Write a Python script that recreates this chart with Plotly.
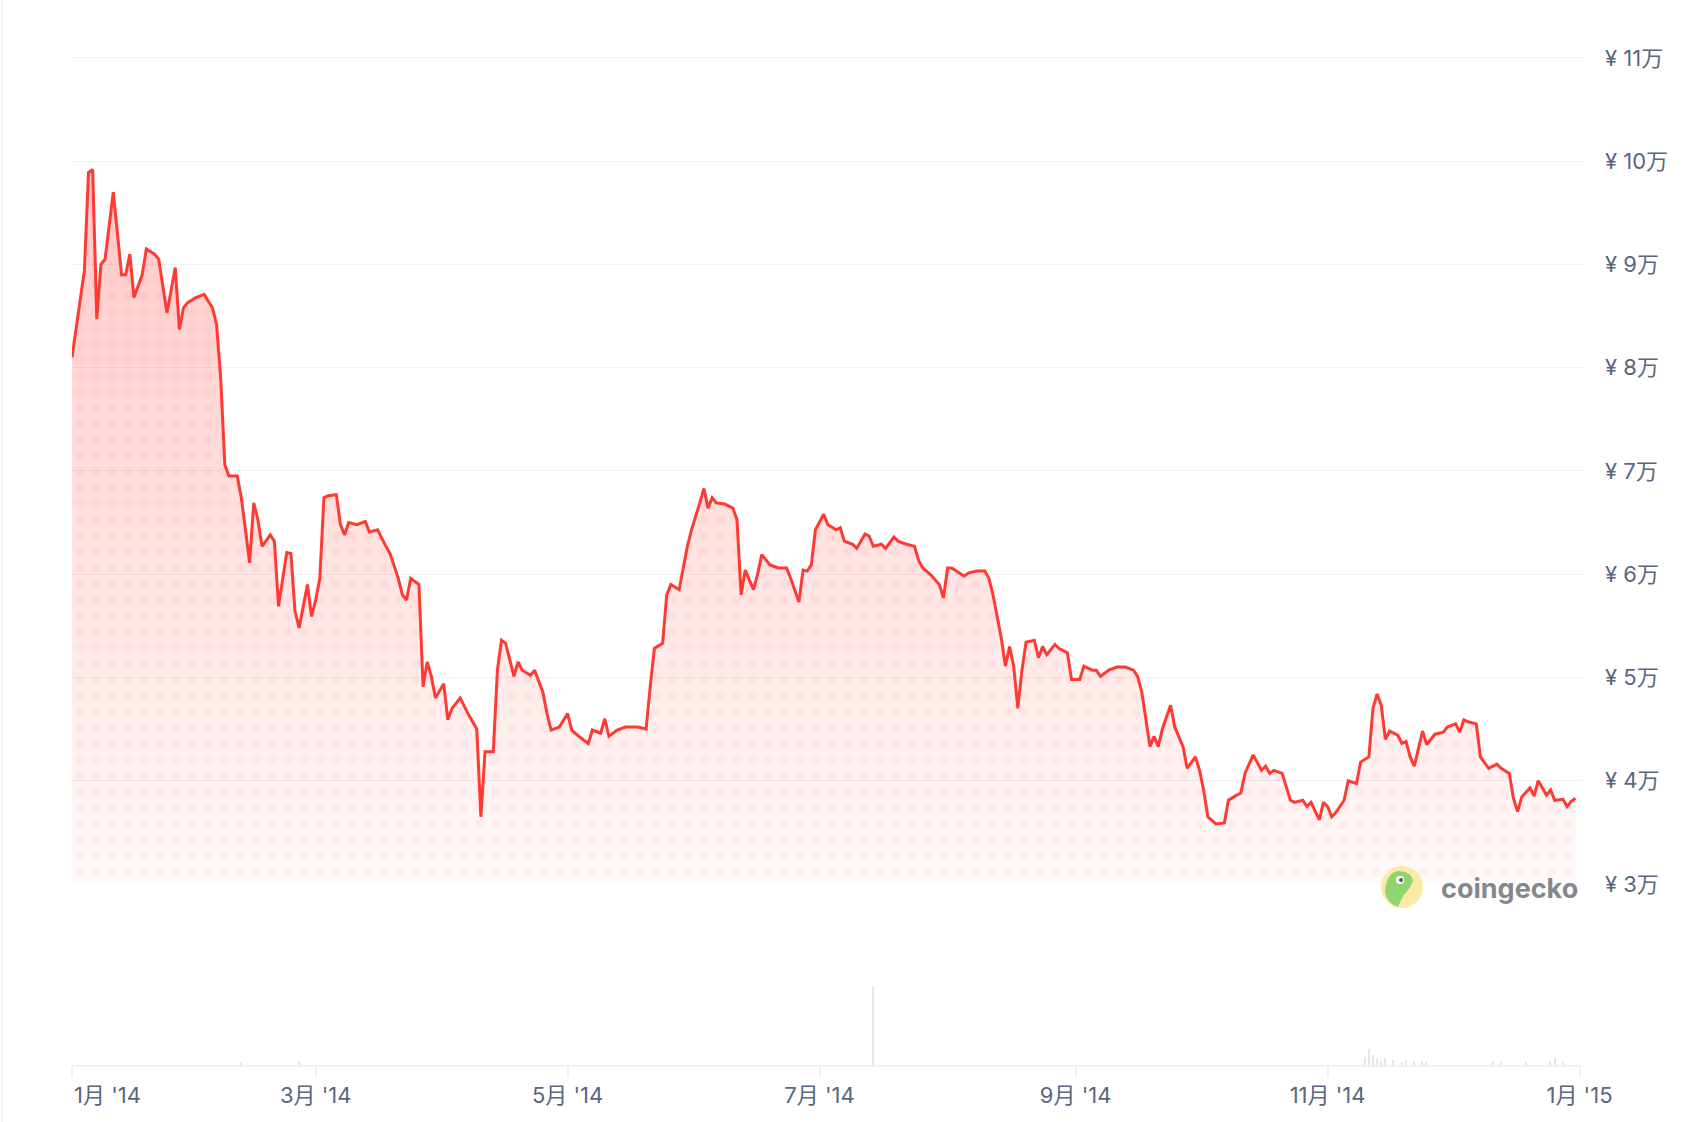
import pandas as pd
import plotly.graph_objects as go

# ---- data ----
start_date = "2014-01-01"
price_days = [0, 3, 4, 5, 6, 7, 8, 10, 12, 13, 14, 15, 17, 18, 20, 21, 23, 25, 26, 27, 28, 30, 32, 34, 35, 36, 37, 38,
              40, 41, 42, 43, 44, 45, 46, 48, 49, 50, 52, 53, 54, 55, 57, 58, 59, 60, 61, 62, 64, 65, 66, 67, 69, 71,
              72, 74, 76, 77, 79, 80, 81, 82, 84, 85, 86, 87, 88, 90, 91, 92, 94, 96, 98, 99, 100, 102, 103, 104, 105,
              107, 108, 109, 111, 112, 114, 115, 116, 118, 120, 121, 123, 125, 126, 128, 129, 130, 132, 134, 137, 139,
              140, 141, 143, 144, 145, 147, 149, 150, 152, 153, 154, 155, 156, 158, 160, 161, 162, 163, 165, 166, 167,
              169, 171, 173, 174, 176, 177, 178, 179, 180, 182, 183, 185, 186, 187, 189, 190, 192, 193, 194, 196, 197,
              199, 200, 202, 204, 205, 206, 208, 210, 211, 212, 213, 215, 216, 217, 219, 221, 222, 223, 225, 226, 227,
              228, 229, 230, 231, 233, 234, 235, 236, 238, 239, 241, 242, 244, 245, 247, 248, 249, 251, 253, 255, 257,
              258, 259, 260, 261, 262, 263, 264, 266, 267, 268, 269, 270, 272, 273, 274, 275, 277, 279, 280, 282, 283,
              284, 286, 288, 289, 290, 291, 293, 294, 295, 296, 298, 299, 300, 302, 303, 304, 305, 306, 308, 309, 311,
              312, 314, 315, 316, 317, 318, 319, 321, 322, 323, 324, 325, 327, 328, 330, 332, 333, 335, 336, 337, 338,
              340, 341, 343, 345, 346, 348, 349, 350, 351, 353, 354, 355, 357, 358, 359, 361, 362, 363, 364]
price_cny = [81000, 89400, 98900, 99200, 84700, 90000, 90500, 97000, 89000, 89000, 91000, 86800, 89000, 91500, 91000,
             90500, 85300, 89700, 83700, 85800, 86300, 86800, 87100, 85800, 84200, 79000, 70600, 69500,
             69500, 67400, 64300, 61100, 66900, 65300, 62700, 63800, 63200, 56900, 62100, 62000, 56400, 54800, 59000,
             55900, 57500, 59600, 67400, 67600, 67700, 64800, 63800, 65000, 64800, 65100,
             64100, 64300, 62700, 62000, 59600, 58000, 57500, 59600, 59000, 49100, 51500, 50100, 48000, 49400, 45900,
             47000, 48000, 46400, 45000, 36500, 42800, 42800, 50700, 53600, 53300,
             50100, 51500, 50700, 50200, 50700, 48600, 46500, 44900, 45200, 46500, 44900, 44200, 43600, 44900, 44600,
             46000, 44300, 44900, 45200, 45200, 45000,
             49100, 52800, 53300, 58000, 59000, 58500, 62700, 64300, 66900, 68300, 66400, 67400, 66900, 66800, 66400,
             65300, 58000, 60400, 58500, 60000, 61900,
             60900, 60600, 60600, 59600, 57300, 60400, 60300, 60900, 64300, 65800, 64800, 64300, 64500, 63200, 62900,
             62500, 63900, 63700, 62700, 62900, 62500,
             63600, 63200, 62900, 62700, 61300, 60600, 59900, 59000, 57700, 60600, 60600, 60100, 59800, 60100, 60300,
             60300, 59600, 58000, 53800, 51100, 53000,
             51100, 47000, 50700, 53400, 53600, 51900, 53000, 52200, 53200, 52800, 52400, 49800, 49800, 51100, 50700,
             50700, 50100, 50700, 51000, 51000, 50700,
             50100, 48600, 45900, 43300, 44300, 43300, 45000, 47300, 45200, 44200, 43300, 41200, 42300, 41000, 39100,
             36500, 35800, 35900, 38100, 38600, 38800,
             40700, 42500, 41000, 41400, 40700, 41000, 40700, 39300, 38100, 37900, 38100, 37500, 37900, 36200, 37900,
             37500, 36500, 36900, 38100, 40000, 39700,
             41800, 42300, 47000, 48400, 47300, 44000, 44800, 44400, 43600, 43800, 42300, 41400, 44800, 43500, 44500,
             44700, 45200, 45500, 44700, 45900, 45700,
             45500, 42300, 41200, 41600, 41200, 40700, 38300, 37000, 38400, 39300, 38500, 40000, 38600, 39100, 38100,
             38200, 37500, 38000, 38300]

volume_days = [41, 55, 194, 313, 314, 315, 316, 317, 318, 320, 322, 323, 325, 327, 328, 344, 346, 352, 358, 359, 361]
volume_cny = [3, 3, 78, 8, 16, 10, 6, 4, 7, 5, 3, 5, 4, 4, 3, 3, 4, 3, 4, 7, 4]

tick_months = ["2014-01-01", "2014-03-01", "2014-05-01", "2014-07-01", "2014-09-01", "2014-11-01", "2015-01-01"]
tick_month_labels = ["1月 '14", "3月 '14", "5月 '14", "7月 '14", "9月 '14", "11月 '14", "1月 '15"]
y_ticks = [30000, 40000, 50000, 60000, 70000, 80000, 90000, 100000, 110000]
y_tick_labels = ["¥ 3万", "¥ 4万", "¥ 5万", "¥ 6万", "¥ 7万", "¥ 8万", "¥ 9万", "¥ 10万", "¥ 11万"]

# ---- build ----
base = pd.Timestamp(start_date)
dates = [base + pd.Timedelta(days=d) for d in price_days]
vdates = [base + pd.Timedelta(days=d) for d in volume_days]

RED = "#ff3a33"
GRID = "#eff2f5"
LABEL = "#58667e"
FONT = "Inter, 'Noto Sans CJK SC', sans-serif"
FS = 22

W, H = 1696, 1122
ML, MR, MT, MB = 72, 114, 0, 57
PW, PH = W - ML - MR, H - MT - MB

fig = go.Figure()

fig.add_trace(go.Bar(x=vdates, y=volume_cny, yaxis="y2", marker=dict(color="#e3e6ec", line=dict(width=0)),
                     width=86400000 * 0.35, hoverinfo="skip", showlegend=False))

fig.add_trace(go.Scatter(
    x=dates, y=price_cny, mode="lines", line=dict(width=0), fill="tozeroy",
    fillgradient=dict(type="vertical", start=30000, stop=100000,
                      colorscale=[[0, "rgba(255,58,51,0.03)"], [1, "rgba(255,58,51,0.28)"]]),
    hoverinfo="skip", showlegend=False))

fig.add_trace(go.Scatter(
    x=dates, y=price_cny, mode="lines", line=dict(width=0), fill="tozeroy",
    fillpattern=dict(shape=".", fgcolor="rgba(255,58,51,0.08)", bgcolor="rgba(0,0,0,0)", size=16, solidity=0.3),
    hoverinfo="skip", showlegend=False))

fig.add_trace(go.Scatter(x=dates, y=price_cny, mode="lines", line=dict(color=RED, width=3),
                         showlegend=False))

def px_x(p):
    return (p - ML) / PW

def px_y(p):
    return (H - MB - p) / PH

vol_top = (H - MB - 985) / PH
price_bottom = px_y(884)

fig.update_layout(
    width=W, height=H, margin=dict(l=ML, r=MR, t=MT, b=MB),
    paper_bgcolor="white", plot_bgcolor="white",
    font=dict(family=FONT, color=LABEL, size=FS),
    bargap=0,
    xaxis=dict(type="date", domain=[0, 1], anchor="y2",
               range=[base, base + pd.Timedelta(days=365.6)],
               showgrid=False, zeroline=False, showline=True, linecolor=GRID, linewidth=2,
               ticks="outside", ticklen=10, tickcolor=GRID, tickwidth=1.5,
               tickvals=tick_months, ticktext=[""] + tick_month_labels[1:],
               tickfont=dict(size=FS, color=LABEL, family=FONT)),
    yaxis=dict(domain=[price_bottom, 1], anchor="x", side="right",
               range=[29990, 110000 + 58 / 103.25 * 10000],
               showgrid=True, gridcolor=GRID, gridwidth=1.2, zeroline=False, showline=False,
               tickvals=y_ticks, ticktext=y_tick_labels, ticks="", ticklabelstandoff=22,
               tickfont=dict(size=FS, color=LABEL, family=FONT)),
    yaxis2=dict(domain=[0, vol_top], anchor="x", range=[0, max(volume_cny) * 80 / 78],
                showgrid=False, zeroline=False, showticklabels=False, showline=False),
)

# first month label sits left-aligned at its tick
fig.add_annotation(x=tick_months[0], y=px_y(1095), xref="x", yref="paper", text=tick_month_labels[0],
                   showarrow=False, xanchor="left", yanchor="middle", font=dict(size=FS, color=LABEL, family=FONT))

# container border on the left
fig.add_shape(type="line", xref="paper", yref="paper", x0=px_x(2), x1=px_x(2), y0=px_y(0), y1=px_y(1122),
              line=dict(color=GRID, width=1.5))

# coingecko watermark
cx, cy, r = 1402, 887, 21
fig.add_shape(type="circle", xref="paper", yref="paper",
              x0=px_x(cx - r), x1=px_x(cx + r), y0=px_y(cy + r), y1=px_y(cy - r),
              fillcolor="#fbeaa6", line=dict(width=0), layer="above")
fig.add_shape(type="path", xref="paper", yref="paper",
              path=(f"M {px_x(cx-17)} {px_y(cy+6)} "
                    f"Q {px_x(cx-16)} {px_y(cy-16)} {px_x(cx-2)} {px_y(cy-16)} "
                    f"Q {px_x(cx+10)} {px_y(cy-15)} {px_x(cx+11)} {px_y(cy-6)} "
                    f"Q {px_x(cx+8)} {px_y(cy+2)} {px_x(cx+2)} {px_y(cy+8)} "
                    f"Q {px_x(cx-2)} {px_y(cy+14)} {px_x(cx-4)} {px_y(cy+20)} "
                    f"Q {px_x(cx-14)} {px_y(cy+17)} {px_x(cx-17)} {px_y(cy+6)} Z"),
              fillcolor="#8fd66e", line=dict(width=0), layer="above")
fig.add_shape(type="circle", xref="paper", yref="paper",
              x0=px_x(cx - 6), x1=px_x(cx + 2), y0=px_y(cy - 3), y1=px_y(cy - 11),
              fillcolor="white", line=dict(width=0), layer="above")
fig.add_shape(type="circle", xref="paper", yref="paper",
              x0=px_x(cx - 3), x1=px_x(cx + 1), y0=px_y(cy - 5), y1=px_y(cy - 9),
              fillcolor="#555b63", line=dict(width=0), layer="above")
fig.add_annotation(x=px_x(1439), y=px_y(888), xref="paper", yref="paper", text="<b>coingecko</b>",
                   showarrow=False, xanchor="left", yanchor="middle",
                   font=dict(size=27, color="#84888e", family="Inter, sans-serif"))

fig.write_html("out.html", config={"displayModeBar": False},
               post_script="document.body.style.margin='0';document.body.style.overflow='hidden';")
